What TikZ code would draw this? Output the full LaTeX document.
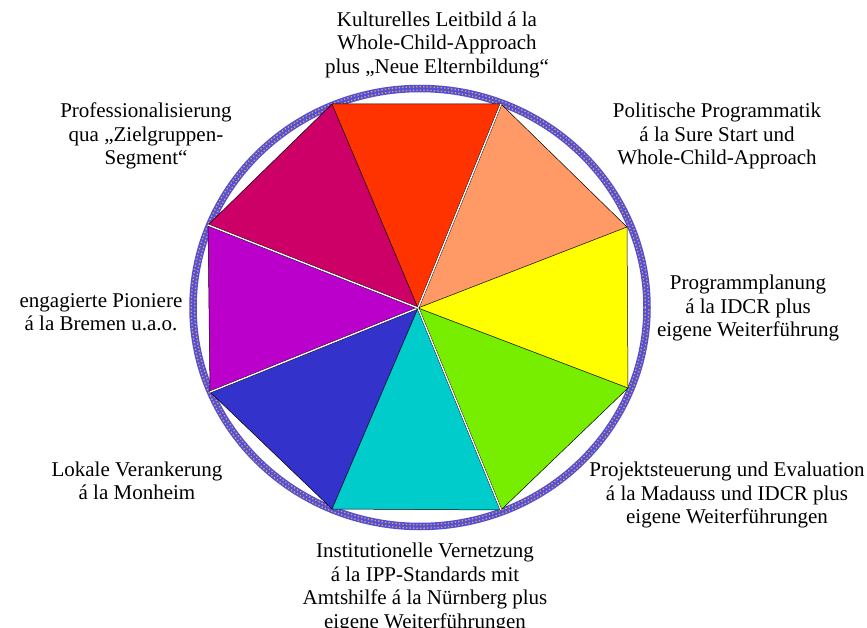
\documentclass[tikz,border=0pt]{standalone}
\usepackage{fontspec}
\setmainfont{Liberation Serif}
\definecolor{cRed}{HTML}{FF3300}
\definecolor{cOrange}{HTML}{FF9966}
\definecolor{cYellow}{HTML}{FFFF00}
\definecolor{cGreen}{HTML}{77EE00}
\definecolor{cCyan}{HTML}{00CCCC}
\definecolor{cBlue}{HTML}{3333CC}
\definecolor{cPurple}{HTML}{BB00CC}
\definecolor{cMagenta}{HTML}{CC0066}
\definecolor{ringBlue}{HTML}{5050DC}
\definecolor{ringOrange}{HTML}{F0A040}
\begin{document}
\begin{tikzpicture}[x=1pt,y=-1pt,
  slice/.style={draw=black,line width=0.5pt},
  gapedge/.style={draw=black,line width=0.4pt,double=white,double distance=1.4pt},
  ringdots/.style={ringOrange,line width=1.3pt,dash pattern=on 1.3pt off 2.2pt},
  lbl/.style={align=center,inner sep=0pt,font=\fontsize{21}{23.5}\selectfont}]
\useasboundingbox (0,0) rectangle (867,628);
\coordinate (c) at (418,308);
\coordinate (A) at (332,104);
\coordinate (B) at (501,104);
\coordinate (C) at (627,227);
\coordinate (D) at (628,388);
\coordinate (E) at (501,510);
\coordinate (F) at (332,509);
\coordinate (G) at (210,392);
\coordinate (H) at (208,225);
% ring
\draw[ringBlue,line width=7.5pt] (420,307.5) ellipse [x radius=227,y radius=219];
\draw[ringdots] (420,307.5) ellipse [x radius=225.3,y radius=217.3];
\draw[ringdots,dash phase=1.75pt] (420,307.5) ellipse [x radius=228.7,y radius=220.7];
% slices
\fill[cRed] (c) -- (A) -- (B) -- cycle;
\fill[cOrange] (c) -- (B) -- (C) -- cycle;
\fill[cYellow] (c) -- (C) -- (D) -- cycle;
\fill[cGreen] (c) -- (D) -- (E) -- cycle;
\fill[cCyan] (c) -- (E) -- (F) -- cycle;
\fill[cBlue] (c) -- (F) -- (G) -- cycle;
\fill[cPurple] (c) -- (G) -- (H) -- cycle;
\fill[cMagenta] (c) -- (H) -- (A) -- cycle;
\draw[slice] (A) -- (B) -- (C) -- (D) -- (E) -- (F) -- (G) -- (H) -- cycle;
\draw[slice] (c) -- (A);
\draw[slice] (c) -- (C);
\draw[slice] (c) -- (D);
\draw[slice] (c) -- (F);
\draw[gapedge] (c) -- (B);
\draw[gapedge] (c) -- (E);
\draw[gapedge] (c) -- (G);
\draw[gapedge] (c) -- (H);
% labels
\node[lbl] (l1) at (437,44.5) {Kulturelles Leitbild á la\\Whole-Child-Approach\\plus „Neue Elternbildung“};
\node[lbl] (l2) at (717,136) {Politische Programmatik\\á la Sure Start und\\Whole-Child-Approach};
\node[lbl] (l3) at (748,308) {Programmplanung\\á la IDCR plus\\eigene Weiterführung};
\node[lbl] (l4) at (727,495) {Projektsteuerung und Evaluation\\á la Madauss und IDCR plus\\eigene Weiterführungen};
\node[lbl] (l5) at (425,588) {Institutionelle Vernetzung\\á la IPP-Standards mit\\Amtshilfe á la Nürnberg plus\\eigene Weiterführungen};
\node[lbl] (l6) at (137,481) {Lokale Verankerung\\á la Monheim};
\node[lbl] (l7) at (101,312) {engagierte Pioniere\\á la Bremen u.a.o.};
\node[lbl] (l8) at (146,136) {Professionalisierung\\qua „Zielgruppen-\\Segment“};
\end{tikzpicture}
\end{document}
